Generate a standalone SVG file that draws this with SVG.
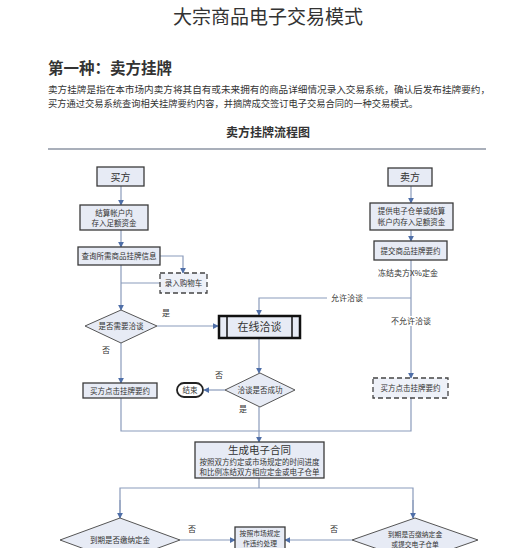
<svg xmlns="http://www.w3.org/2000/svg" width="511" height="548" viewBox="0 0 511 548">
<style>
.t{font-family:"Noto Sans CJK SC","Noto Sans",sans-serif;fill:#333}
.box{fill:#e7ebf5;stroke:#3a3a3a;stroke-width:1.3}
.dbox{fill:#eef1f8;stroke:#444;stroke-width:1.3;stroke-dasharray:5 3}
.dia{fill:#e7ebf5;stroke:#555;stroke-width:1}
.c{fill:none;stroke:#8a9bbb;stroke-width:1.2}
.s{font-size:7.5px;text-anchor:middle}
.x{font-size:6.8px;text-anchor:middle}
.l{font-size:8px;text-anchor:middle}
</style>
<defs>
<marker id="a" viewBox="0 0 8 8" refX="7" refY="4" markerWidth="6" markerHeight="6" orient="auto" markerUnits="userSpaceOnUse">
<path d="M0,0 L8,4 L0,8 Z" fill="#4f6fa8"/>
</marker>
</defs>
<rect width="511" height="548" fill="#fff"/>
<text class="t" x="268" y="24" font-size="19" text-anchor="middle" fill="#444">大宗商品电子交易模式</text>
<text class="t" x="48" y="74" font-size="15.5" font-weight="bold">第一种：卖方挂牌</text>
<text class="t" x="48" y="93" font-size="9.3" textLength="442" lengthAdjust="spacingAndGlyphs">卖方挂牌是指在本市场内卖方将其自有或未来拥有的商品详细情况录入交易系统，确认后发布挂牌要约，</text>
<text class="t" x="48" y="107" font-size="9.3" textLength="370" lengthAdjust="spacingAndGlyphs">买方通过交易系统查询相关挂牌要约内容，并摘牌成交签订电子交易合同的一种交易模式。</text>
<text class="t" x="268" y="137" font-size="12" font-weight="bold" text-anchor="middle">卖方挂牌流程图</text>
<line x1="48" y1="149" x2="486" y2="149" stroke="#8c95a3" stroke-width="1.5"/>

<g id="connectors">
<line class="c" x1="121" y1="186" x2="121" y2="205" marker-end="url(#a)"/>
<line class="c" x1="121" y1="230" x2="121" y2="247" marker-end="url(#a)"/>
<polyline class="c" points="160,256 183,256 183,273" marker-end="url(#a)"/>
<line class="c" x1="160" y1="283" x2="121" y2="283"/>
<line class="c" x1="121" y1="265" x2="121" y2="310" marker-end="url(#a)"/>
<line class="c" x1="157" y1="326" x2="218" y2="326" marker-end="url(#a)"/>
<line class="c" x1="121" y1="343" x2="121" y2="383" marker-end="url(#a)"/>
<line class="c" x1="259" y1="338" x2="259" y2="373" marker-end="url(#a)"/>
<line class="c" x1="225" y1="390" x2="204" y2="390" marker-end="url(#a)"/>
<line class="c" x1="411" y1="186" x2="411" y2="203" marker-end="url(#a)"/>
<line class="c" x1="411" y1="230" x2="411" y2="241" marker-end="url(#a)"/>
<line class="c" x1="411" y1="260" x2="411" y2="378" marker-end="url(#a)"/>
<polyline class="c" points="411,298 259,298 259,315" marker-end="url(#a)"/>
<polyline class="c" points="121,398 121,431 411,431 411,398"/>
<line class="c" x1="259" y1="407" x2="259" y2="442" marker-end="url(#a)"/>
<line class="c" x1="259" y1="478" x2="259" y2="488"/>
<polyline class="c" points="120,518 120,488 413,488 413,518"/>
<line class="c" x1="120" y1="500" x2="120" y2="518" marker-end="url(#a)"/>
<line class="c" x1="413" y1="500" x2="413" y2="518" marker-end="url(#a)"/>
<line class="c" x1="180" y1="540" x2="235" y2="540" marker-end="url(#a)"/>
<line class="c" x1="352" y1="540" x2="285" y2="540" marker-end="url(#a)"/>
<rect x="327" y="293" width="40" height="10" fill="#fff"/>
<text class="t l" x="347" y="301">允许洽谈</text>
<rect x="389" y="316" width="44" height="10" fill="#fff"/>
<text class="t l" x="411" y="324">不允许洽谈</text>
<text class="t l" x="408" y="276">冻结卖方X%定金</text>
<text class="t l" x="166" y="316">是</text>
<text class="t l" x="106" y="353">否</text>
<text class="t l" x="219" y="378">否</text>
<text class="t l" x="243" y="412">是</text>
<text class="t l" x="192" y="532">否</text>
<text class="t l" x="334" y="532">否</text>
</g>

<g id="buyer">
<rect class="box" x="97" y="167" width="47" height="19"/>
<text class="t" x="120.5" y="180.5" font-size="10" text-anchor="middle">买方</text>
</g>
<g id="buyer-fund">
<rect class="box" x="80" y="205" width="68" height="25"/>
<text class="t s" x="114" y="215.5">结算帐户内</text>
<text class="t s" x="114" y="225.5">存入足额资金</text>
</g>
<g id="buyer-query">
<rect class="box" x="78" y="247" width="82" height="18"/>
<text class="t s" x="119" y="258.5">查询所需商品挂牌信息</text>
</g>
<g id="cart">
<rect class="dbox" x="160" y="273" width="47" height="20"/>
<text class="t s" x="183.5" y="285.5">录入购物车</text>
</g>
<g id="need-negotiate">
<polygon class="dia" points="121,310 157,326 121,343 85,326"/>
<text class="t s" x="121" y="329">是否需要洽谈</text>
</g>
<g id="negotiate">
<rect x="219" y="316" width="81" height="22" fill="#e7ebf5" stroke="#111" stroke-width="2.5"/>
<line x1="227" y1="316" x2="227" y2="338" stroke="#111" stroke-width="1.5"/>
<line x1="292" y1="316" x2="292" y2="338" stroke="#111" stroke-width="1.5"/>
<text class="t" x="259.5" y="331" font-size="11" text-anchor="middle">在线洽谈</text>
</g>
<g id="buyer-click-left">
<rect class="box" x="83" y="383" width="74" height="15"/>
<text class="t s" x="120" y="393.5">买方点击挂牌要约</text>
</g>
<g id="success">
<polygon class="dia" points="260,373 295,390 260,407 225,390"/>
<text class="t s" x="260" y="393">洽谈是否成功</text>
</g>
<g id="end">
<rect x="177" y="383" width="26" height="14" rx="7" fill="#fff" stroke="#222" stroke-width="1.8"/>
<text class="t s" x="190" y="393">结束</text>
</g>
<g id="seller">
<rect class="box" x="388" y="168" width="44" height="18"/>
<text class="t" x="410" y="181" font-size="10" text-anchor="middle">卖方</text>
</g>
<g id="seller-fund">
<rect class="box" x="370" y="203" width="83" height="27"/>
<text class="t s" x="411.5" y="214">提供电子仓单或结算</text>
<text class="t s" x="411.5" y="225">帐户内存入足额资金</text>
</g>
<g id="seller-post">
<rect class="box" x="374" y="241" width="73" height="19"/>
<text class="t s" x="410.5" y="253.5">提交商品挂牌要约</text>
</g>
<g id="buyer-click-right">
<rect class="dbox" x="373" y="378" width="75" height="20"/>
<text class="t s" x="410.5" y="391">买方点击挂牌要约</text>
</g>
<g id="contract">
<rect class="box" x="195" y="442" width="129" height="36"/>
<text class="t" x="259.5" y="454" font-size="10.5" text-anchor="middle">生成电子合同</text>
<text class="t s" x="259.5" y="465">按照双方约定或市场规定的时间进度</text>
<text class="t s" x="259.5" y="474.5">和比例冻结双方相应定金或电子仓单</text>
</g>
<g id="buyer-pay">
<polygon class="dia" points="120,518 180,540 120,562 60,540"/>
<text class="t s" x="120" y="543">到期是否缴纳定金</text>
</g>
<g id="default">
<rect class="box" x="235" y="527" width="50" height="30"/>
<text class="t x" x="260" y="536">按照市场规定</text>
<text class="t x" x="260" y="546">作违约处理</text>
</g>
<g id="seller-pay">
<polygon class="dia" points="415,518 478,540 415,562 352,540"/>
<text class="t x" x="415" y="537">到期是否缴纳定金</text>
<text class="t x" x="415" y="547">或提交电子仓单</text>
</g>
</svg>
